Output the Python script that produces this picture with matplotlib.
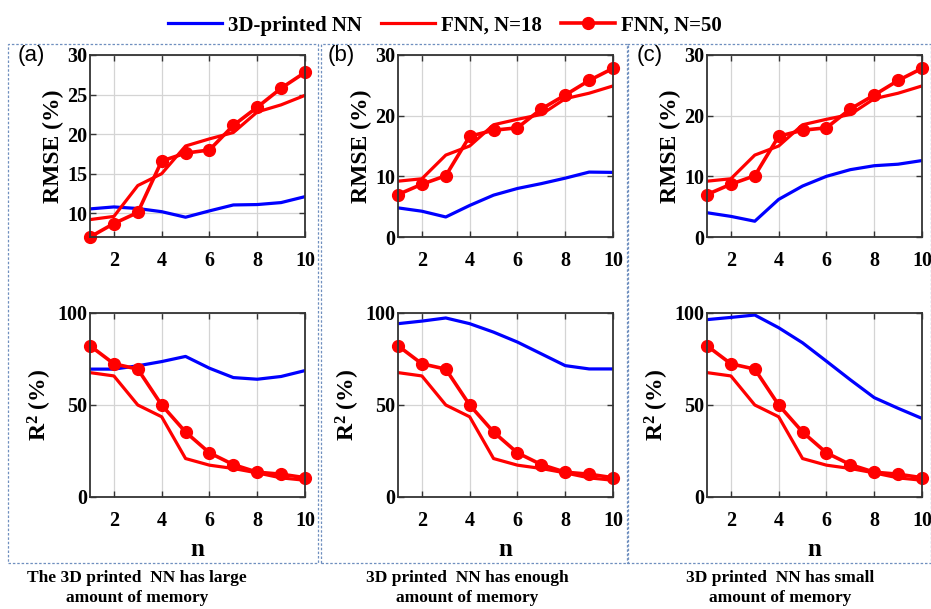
import numpy as np
import matplotlib
matplotlib.use('Agg')
import matplotlib.pyplot as plt
from matplotlib.patches import Rectangle

# data
n = [1, 2, 3, 4, 5, 6, 7, 8, 9, 10]

rmse_fnn18 = [9.2, 9.6, 13.5, 15.0, 18.5, 19.4, 20.2, 22.8, 23.7, 24.9]
rmse_fnn50 = [7.0, 8.7, 10.1, 16.6, 17.6, 18.0, 21.1, 23.4, 25.8, 27.8]
r2_fnn18 = [67.6, 65.8, 50.0, 43.6, 20.9, 17.3, 15.5, 13.1, 10.4, 9.1]
r2_fnn50 = [82.2, 72.4, 69.5, 50.0, 35.3, 24.0, 17.6, 13.5, 12.4, 10.5]

rmse_nn_a = [10.55, 10.8, 10.6, 10.2, 9.5, 10.3, 11.05, 11.1, 11.35, 12.1]
rmse_nn_b = [4.8, 4.25, 3.3, 5.2, 6.9, 8.0, 8.8, 9.7, 10.7, 10.65]
rmse_nn_c = [4.0, 3.4, 2.6, 6.2, 8.4, 10.0, 11.1, 11.75, 12.0, 12.6]
r2_nn_a = [69.5, 69.5, 71.3, 73.6, 76.4, 70.0, 64.9, 64.0, 65.5, 68.7]
r2_nn_b = [94.2, 95.6, 97.3, 94.2, 89.6, 84.2, 77.8, 71.4, 69.6, 69.6]
r2_nn_c = [96.4, 97.6, 98.9, 92.0, 83.8, 73.8, 63.7, 54.0, 48.2, 42.7]

panel_tags = ['(a)', '(b)', '(c)']
captions = ['The 3D printed  NN has large\namount of memory',
            '3D printed  NN has enough\namount of memory',
            '3D printed  NN has small\namount of memory']
rmse_nn = [rmse_nn_a, rmse_nn_b, rmse_nn_c]
r2_nn = [r2_nn_a, r2_nn_b, r2_nn_c]

plt.rcParams['font.family'] = ['Liberation Serif', 'DejaVu Serif']
plt.rcParams['font.weight'] = 'bold'
plt.rcParams['mathtext.fontset'] = 'custom'
plt.rcParams['mathtext.rm'] = 'Liberation Serif:bold'
plt.rcParams['mathtext.it'] = 'Liberation Serif:bold'
plt.rcParams['mathtext.bf'] = 'Liberation Serif:bold'

fig = plt.figure(figsize=(9.31, 6.09), dpi=100)
W, H = 931.0, 609.0

col_left = [90, 398, 707]
ax_w = 215
top_row = (55, 237)
bot_row = (313, 497)

BLUE = '#0000ff'
RED = '#ff0000'

def setup(ax):
    ax.set_xlim(1, 10)
    ax.set_xticks([2, 4, 6, 8, 10])
    ax.grid(True, color='#d4d4d4', linewidth=0.9)
    ax.set_axisbelow(True)
    ax.tick_params(direction='in', length=4, width=1.0, labelsize=14.5, top=True, right=True,
                   color='#333333')
    ax.tick_params(axis='x', pad=10)
    ax.tick_params(axis='y', pad=2)
    for s in ax.spines.values():
        s.set_linewidth(1.3)
        s.set_color('#333333')
    for lab in ax.get_xticklabels() + ax.get_yticklabels():
        lab.set_fontweight('bold')

handles = None
for i in range(3):
    l = col_left[i]
    ax1 = fig.add_axes([l / W, 1 - top_row[1] / H, ax_w / W, (top_row[1] - top_row[0]) / H])
    h1, = ax1.plot(n, rmse_nn[i], color=BLUE, lw=2.3, label='3D-printed NN')
    h2, = ax1.plot(n, rmse_fnn18, color=RED, lw=2.3, label='FNN, N=18')
    h3, = ax1.plot(n, rmse_fnn50, color=RED, lw=2.6, marker='o', ms=8.5, label='FNN, N=50',
                   clip_on=False)
    if i == 0:
        ax1.set_ylim(7, 30)
        ax1.set_yticks([10, 15, 20, 25, 30])
        handles = [h1, h2, h3]
    else:
        ax1.set_ylim(0, 30)
        ax1.set_yticks([0, 10, 20, 30])
    setup(ax1)
    ax1.set_ylabel('RMSE (%)', fontsize=17, fontweight='bold', labelpad=2)

    ax2 = fig.add_axes([l / W, 1 - bot_row[1] / H, ax_w / W, (bot_row[1] - bot_row[0]) / H])
    ax2.plot(n, r2_nn[i], color=BLUE, lw=2.3)
    ax2.plot(n, r2_fnn18, color=RED, lw=2.3)
    ax2.plot(n, r2_fnn50, color=RED, lw=2.6, marker='o', ms=8.5, clip_on=False)
    ax2.set_ylim(0, 100)
    ax2.set_yticks([0, 50, 100])
    setup(ax2)
    ax2.set_ylabel('R$^2$ (%)', fontsize=17, fontweight='bold', labelpad=2)
    ax2.set_xlabel('n', fontsize=18, fontweight='bold', labelpad=5)

# panel tags
tag_x = [31, 341, 650]
for i in range(3):
    fig.text(tag_x[i] / W, 1 - 55 / H, panel_tags[i], fontsize=16, fontweight='normal',
             family='Liberation Sans', ha='center', va='center')

# captions
cap_x = [137, 467, 780]
for i in range(3):
    fig.text(cap_x[i] / W, 1 - 588 / H, captions[i], fontsize=12.5, fontweight='bold',
             ha='center', va='center', linespacing=1.35)

# dashed boxes
boxes = [(8, 318), (321, 628), (627, 931)]
for x0, x1 in boxes:
    fig.patches.append(Rectangle((x0 / W, 1 - 563 / H), (x1 - x0) / W, (563 - 44) / H,
                                 transform=fig.transFigure, fill=False, ls=(0, (2, 1.5)),
                                 lw=0.9, edgecolor='#6f8fbf'))

fig.legend(handles, ['3D-printed NN', 'FNN, N=18', 'FNN, N=50'], loc='upper center',
           bbox_to_anchor=(0.478, 1.005), ncol=3, frameon=False,
           prop={'size': 15, 'weight': 'bold'}, handlelength=2.6, columnspacing=0.9,
           handletextpad=0.3)

fig.savefig('out.png', dpi=100)
